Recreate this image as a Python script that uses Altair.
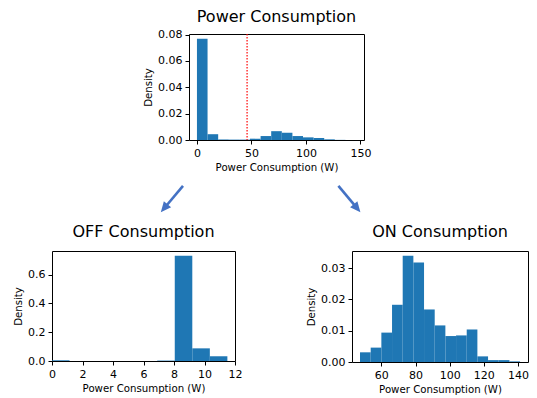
import math
import altair as alt
import pandas as pd

# ---------------- data ----------------
top_edges = [0.0, 9.73, 19.47, 29.2, 38.93, 48.67, 58.4, 68.13, 77.87, 87.6,
             97.33, 107.07, 116.8, 126.53, 136.27, 146.0]
top_density = [0.0768, 0.0044, 0.0004, 0.0003, 0.0003, 0.0010, 0.0030, 0.0067,
               0.0055, 0.0030, 0.0020, 0.0015, 0.0005, 0.0001, 0.0]
threshold = [46]

off_edges = [0.0, 1.15, 2.3, 3.45, 4.6, 5.75, 6.9, 8.05, 9.2, 10.35, 11.5]
off_density = [0.005, 0.0, 0.0, 0.0, 0.0, 0.0, 0.003, 0.732, 0.088, 0.033]

on_edges = [47.5, 53.75, 60.0, 66.25, 72.5, 78.75, 85.0, 91.25, 97.5, 103.75,
            110.0, 116.25, 122.5, 128.75, 135.0, 141.25]
on_density = [0.0031, 0.0046, 0.0094, 0.0183, 0.0340, 0.0318, 0.0168, 0.0117,
              0.0083, 0.0085, 0.0104, 0.0018, 0.0006, 0.0006, 0.0002]

# arrows, in fractions of the arrow strip (0 = left/top, 1 = right/bottom)
arrow_x_from = [0.3275, 0.716]
arrow_y_from = [0.256, 0.256]
arrow_x_to = [0.272, 0.771]
arrow_y_to = [0.786, 0.786]

BLUE = "#1f77b4"
ARROW = "#4472C4"
FONT = "DejaVu Sans"
XTITLE = "Power Consumption (W)"


def title(text, offset):
    return alt.TitleParams(text, fontSize=16, font=FONT, fontWeight="normal",
                           color="black", anchor="middle", frame="group",
                           offset=offset)


def hist(edges, dens, ttl, toff, xdom, xvals, ydom, yvals, yfmt, w, h):
    df = pd.DataFrame({"lo": edges[:-1], "hi": edges[1:], "d": dens})
    return alt.Chart(df).mark_bar(color=BLUE).encode(
        x=alt.X("lo:Q", scale=alt.Scale(domain=xdom, nice=False, zero=False),
                axis=alt.Axis(values=xvals, format="d", title=XTITLE)),
        x2="hi:Q",
        y=alt.Y("d:Q", scale=alt.Scale(domain=ydom, nice=False, zero=True),
                axis=alt.Axis(values=yvals, format=yfmt, title="Density")),
        y2=alt.datum(0),
    ).properties(width=w, height=h, title=title(ttl, toff))


top_bars = hist(top_edges, top_density, "Power Consumption", 4, [-7.3, 153.3],
                [0, 50, 100, 150], [0, 0.0805], [0, 0.02, 0.04, 0.06, 0.08],
                ".2f", 175, 106)
top_line = alt.Chart(pd.DataFrame({"t": threshold})).mark_rule(
    color="red", strokeDash=[1.5, 1.5], strokeWidth=1.2).encode(
    x=alt.X("t:Q", title=XTITLE))
top = alt.layer(top_bars, top_line)

off = hist(off_edges, off_density, "OFF Consumption", 11.5, [0, 12],
           [0, 2, 4, 6, 8, 10, 12], [0, 0.765], [0, 0.2, 0.4, 0.6],
           ".1f", 183, 110)
on = hist(on_edges, on_density, "ON Consumption", 11.5, [42.8, 145.9],
          [60, 80, 100, 120, 140], [0, 0.0355], [0, 0.01, 0.02, 0.03],
          ".2f", 176, 111)

noframe = alt.ViewBackground(strokeOpacity=0)

spacer = alt.Chart(pd.DataFrame({"a": [0]})).mark_point(opacity=0, size=1).encode(
    x=alt.value(2), y=alt.value(2)).properties(width=91, height=5, view=noframe)

AW, AH = 400, 50
arr = pd.DataFrame({"x0": arrow_x_from, "y0": arrow_y_from,
                    "x1": arrow_x_to, "y1": arrow_y_to})
angs, xs, ys = [], [], []
for x0, y0, x1, y1 in zip(arrow_x_from, arrow_y_from, arrow_x_to, arrow_y_to):
    dx, dy = (x1 - x0) * AW, (y1 - y0) * AH
    angs.append(math.degrees(math.atan2(dx, -dy)) % 360)
    k = 5.0 / math.hypot(dx, dy)
    xs.append(x1 - (x1 - x0) * k)
    ys.append(y1 - (y1 - y0) * k)
arr["ang"] = angs
arr["xe"] = xs
arr["ye"] = ys

sx = alt.Scale(domain=[0, 1], nice=False, zero=False)
sy = alt.Scale(domain=[0, 1], nice=False, zero=False, reverse=True)
shaft = alt.Chart(arr).mark_rule(color=ARROW, strokeWidth=2.6).encode(
    x=alt.X("x0:Q", scale=sx, axis=None), y=alt.Y("y0:Q", scale=sy, axis=None),
    x2="xe:Q", y2="ye:Q")
head = alt.Chart(arr).mark_point(shape="M0,0L-1,2.2L1,2.2Z", filled=True,
                                 color=ARROW, opacity=1, size=90).encode(
    x=alt.X("x1:Q", scale=sx, axis=None), y=alt.Y("y1:Q", scale=sy, axis=None),
    angle=alt.Angle("ang:Q", scale=None))
arrows = alt.layer(shaft, head).properties(width=AW, height=AH, view=noframe)

row1 = alt.hconcat(spacer, top, spacing=0)
row2 = alt.hconcat(off, on, spacing=63)

chart = alt.vconcat(row1, arrows, row2, spacing=0).properties(
    padding={"left": 5, "top": 0, "right": 0, "bottom": 0}
).configure_view(stroke="black", strokeWidth=1).configure_axis(
    grid=False, domain=False, ticks=True, tickColor="black", tickSize=4,
    tickWidth=1, labelColor="black", labelFont=FONT, labelFontSize=11,
    labelPadding=3, labelFlush=False, labelOverlap=False,
    titleFont=FONT, titleFontSize=10.2, titleFontWeight="normal",
    titleColor="black", titlePadding=4)

chart.save("out.html", embed_options={"renderer": "svg", "actions": False})
